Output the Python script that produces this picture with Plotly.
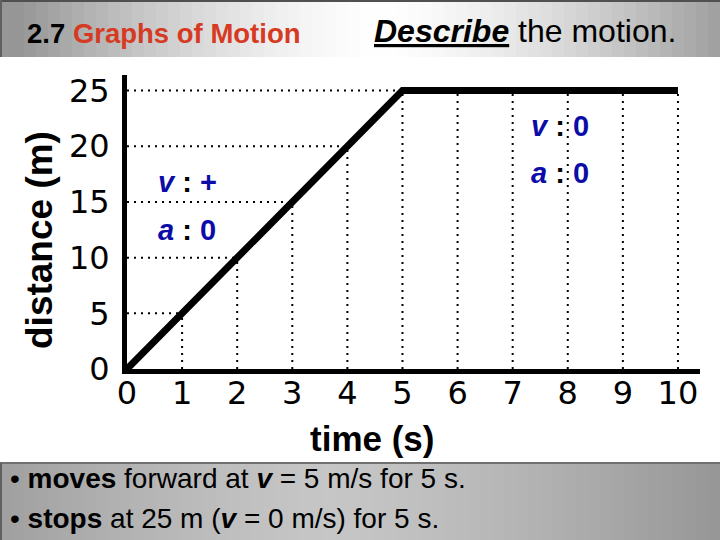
import numpy as np
import plotly.graph_objects as go

# ---- data ----
time_s = [0, 5, 10]
distance_m = [0, 25, 25]
x_ticks = [0, 1, 2, 3, 4, 5, 6, 7, 8, 9, 10]
y_ticks = [0, 5, 10, 15, 20, 25]

W, H = 720, 540
L, R, T, B = 127, 20, 75, 171
PW, PH = W - L - R, H - T - B
X_RANGE = [0, 10.4]
Y_RANGE = [0, 26.4]


def px(xp):
    return (xp - L) / PW


def py(yp):
    return (H - B - yp) / PH


fig = go.Figure()

# background bands (header + footer) made of thin strips to imitate gradients
shapes = []
N = 60
for i in range(N):
    x0, x1 = i * W / N, (i + 1) * W / N
    c = (x0 + x1) / 2
    d = min(abs(c - 380) / 360, 1.0)
    g = int(255 - 105 * d ** 1.5)
    shapes.append(dict(type="rect", xref="paper", yref="paper",
                       x0=px(x0), x1=px(x1 + 0.5), y0=py(57), y1=py(0),
                       fillcolor=f"rgb({g},{g},{g})", line=dict(width=0), layer="below"))
    d2 = min(abs(c - 330) / 390, 1.0)
    g2 = int(198 - 48 * d2 ** 1.4)
    shapes.append(dict(type="rect", xref="paper", yref="paper",
                       x0=px(x0), x1=px(x1 + 0.5), y0=py(540), y1=py(463),
                       fillcolor=f"rgb({g2},{g2},{g2})", line=dict(width=0), layer="below"))
shapes.append(dict(type="rect", xref="paper", yref="paper", x0=px(0), x1=px(720),
                   y0=py(2), y1=py(0), fillcolor="#505050", line=dict(width=0), layer="below"))
shapes.append(dict(type="line", xref="paper", yref="paper", x0=px(1), x1=px(1),
                   y0=py(0), y1=py(57), line=dict(color="#606060", width=2), layer="below"))
shapes.append(dict(type="line", xref="paper", yref="paper", x0=px(0), x1=px(720),
                   y0=py(463), y1=py(463), line=dict(color="#707070", width=2), layer="below"))
shapes.append(dict(type="line", xref="paper", yref="paper", x0=px(1), x1=px(1),
                   y0=py(463), y1=py(540), line=dict(color="#606060", width=2), layer="below"))

# dotted grid under the curve
dot = dict(color="black", width=2, dash="2px,5px")
for t in x_ticks[1:]:
    top = float(np.interp(t, time_s, distance_m))
    shapes.append(dict(type="line", xref="x", yref="y", x0=t, x1=t, y0=0, y1=top,
                       line=dot, layer="below"))
for d in y_ticks[1:]:
    right = float(np.interp(d, distance_m[:2], time_s[:2]))
    shapes.append(dict(type="line", xref="x", yref="y", x0=0, x1=right, y0=d, y1=d,
                       line=dot, layer="below"))

fig.add_trace(go.Scatter(x=time_s, y=distance_m, mode="lines",
                         line=dict(color="black", width=7), hoverinfo="skip",
                         showlegend=False, cliponaxis=False))

font_main = "Liberation Sans, Arial, sans-serif"
blue = "#0c0ca8"
ann = []


def add_text(text, xp, yp, size, color="black", xanchor="left", angle=0):
    ann.append(dict(text=text, xref="paper", yref="paper", x=px(xp), y=py(yp),
                    xanchor=xanchor, yanchor="middle", showarrow=False, textangle=angle,
                    font=dict(family=font_main, size=size, color=color)))


# axis titles
add_text("<b>distance (m)</b>", 39, 240, 37, xanchor="center", angle=-90)
add_text("<b>time (s)</b>", 372, 438, 35, xanchor="center")

# v / a labels
colon = "<span style='color:black'>:</span>"
for txt, xx, yy in [(f"<b><i>v</i> {colon} +</b>", 0.52, 16.8),
                    (f"<b><i>a</i> {colon} 0</b>", 0.52, 12.5),
                    (f"<b><i>v</i> {colon} 0</b>", 7.29, 21.85),
                    (f"<b><i>a</i> {colon} 0</b>", 7.29, 17.6)]:
    ann.append(dict(text=txt, xref="x", yref="y", x=xx, y=yy, xanchor="left",
                    yanchor="middle", showarrow=False,
                    font=dict(family=font_main, size=29, color=blue)))

# header
add_text("<b>2.7 <span style='color:#d63a22'>Graphs of Motion</span></b>", 25, 34, 27.5)
add_text("<b><i><u>Describe</u></i></b> the motion.", 372, 31, 32)

# footer
add_text("• <b>moves</b> forward at <b><i>v</i></b> = 5 m/s for 5 s.", 8, 478, 28)
add_text("• <b>stops</b> at 25 m (<b><i>v</i></b> = 0 m/s) for 5 s.", 8, 518, 28)

tick_font = dict(family="DejaVu Sans, sans-serif", size=32, color="black")
fig.update_layout(
    width=W, height=H,
    margin=dict(l=L, r=R, t=T, b=B, pad=0),
    paper_bgcolor="white", plot_bgcolor="white",
    shapes=shapes, annotations=ann, showlegend=False,
    xaxis=dict(range=X_RANGE, tickvals=x_ticks, ticktext=[str(v) for v in x_ticks],
               showgrid=False, zeroline=False, showline=True, linecolor="black",
               linewidth=5, ticks="", tickfont=tick_font, ticklabelstandoff=-8,
               fixedrange=True, automargin=False),
    yaxis=dict(range=Y_RANGE, tickvals=y_ticks, ticktext=[str(v) for v in y_ticks],
               showgrid=False, zeroline=False, showline=True, linecolor="black",
               linewidth=5, ticks="", tickfont=tick_font, ticklabelstandoff=6,
               fixedrange=True, automargin=False),
)

fig.write_html("out.html", config={"displayModeBar": False},
               post_script="document.body.style.margin='0';")
